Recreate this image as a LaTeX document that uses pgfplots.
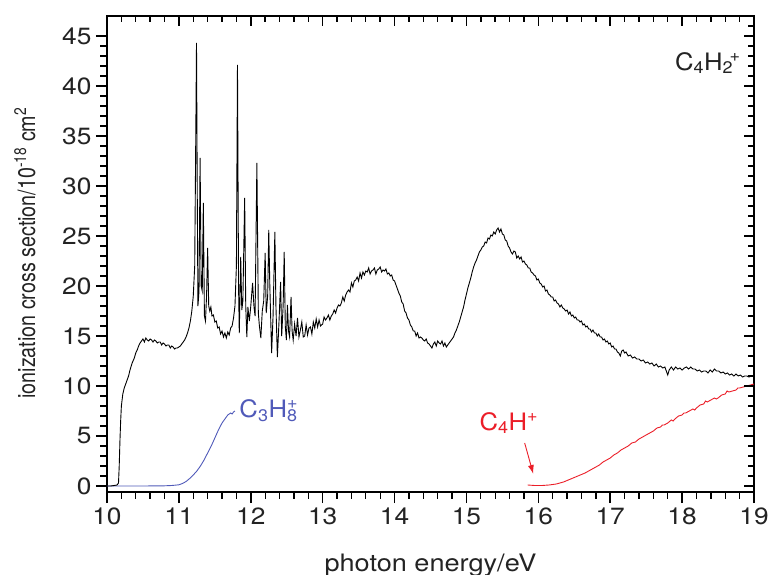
\documentclass[border=0pt]{standalone}
\usepackage{pgfplots}
\pgfplotsset{compat=1.18}
\usepackage{fontspec}
\setmainfont{TeX Gyre Heros}
\newfontfamily\tickfont{TeX Gyre Heros}[FakeStretch=1.12]
\newfontfamily\xlabfont{TeX Gyre Heros}[FakeStretch=1.13]
\newfontfamily\lblfont{TeX Gyre Heros}[FakeStretch=1.07]
\newfontfamily\ylabfont{TeX Gyre Heros}[FakeStretch=0.82]
\usetikzlibrary{arrows.meta}
\definecolor{cblue}{RGB}{80,90,185}
\definecolor{cred}{RGB}{235,30,40}
\definecolor{cdark}{RGB}{35,35,35}

\pgfplotstableread{
x y
10.00 0.0
10.05 0.0
10.10 0.05
10.14 0.1
10.16 0.3
10.17 2.0
10.18 4.5
10.19 6.5
10.20 8.0
10.22 9.2
10.24 9.8
10.26 10.2
10.28 10.6
10.30 11.0
10.32 11.6
10.35 12.3
10.38 12.8
10.40 13.3
10.42 13.6
10.44 14.0
10.46 14.3
10.48 14.5
10.50 14.7
10.52 14.4
10.54 14.8
10.56 14.6
10.58 14.5
10.60 14.7
10.62 14.6
10.64 14.4
10.66 14.6
10.68 14.5
10.70 14.3
10.72 14.4
10.74 14.4
10.76 14.1
10.78 14.3
10.80 14.2
10.82 14.0
10.84 14.1
10.86 14.1
10.88 13.8
10.90 14.0
10.92 13.9
10.94 13.7
10.96 13.8
10.98 13.8
11.00 13.9
11.02 14.0
11.04 14.2
11.06 14.4
11.08 14.6
11.10 14.9
11.12 15.3
11.14 15.8
11.16 16.5
11.18 17.5
11.20 19.0
11.22 22.0
11.235 35.0
11.245 44.3
11.255 30.0
11.265 18.0
11.28 19.5
11.295 32.8
11.31 20.0
11.325 19.5
11.34 28.3
11.355 17.0
11.37 16.5
11.385 19.0
11.40 23.8
11.415 18.0
11.43 17.5
11.445 17.9
11.46 17.0
11.48 17.1
11.50 16.4
11.52 16.5
11.54 15.8
11.56 15.9
11.58 15.2
11.60 15.5
11.62 14.9
11.64 15.3
11.66 14.8
11.68 15.4
11.70 15.1
11.72 15.8
11.74 16.0
11.76 16.8
11.78 18.0
11.80 22.0
11.815 42.1
11.83 20.0
11.84 15.3
11.86 22.9
11.875 17.6
11.89 18.5
11.915 28.8
11.93 18.0
11.945 14.9
11.96 17.9
11.98 16.5
12.00 18.0
12.025 20.3
12.045 17.9
12.06 17.0
12.085 32.3
12.105 17.3
12.12 16.0
12.14 14.8
12.16 17.5
12.18 18.5
12.20 23.3
12.215 17.3
12.235 19.0
12.25 25.6
12.265 20.0
12.29 13.3
12.31 17.0
12.335 25.4
12.35 18.0
12.37 12.9
12.39 16.0
12.415 20.4
12.43 15.0
12.45 18.0
12.465 23.4
12.48 16.0
12.495 14.6
12.51 18.1
12.525 15.5
12.54 14.9
12.56 18.9
12.575 15.5
12.59 14.6
12.61 16.2
12.63 15.0
12.65 16.8
12.67 14.9
12.69 15.6
12.71 16.4
12.73 14.9
12.75 15.0
12.77 16.1
12.79 15.1
12.81 15.8
12.83 15.9
12.85 15.2
12.87 16.4
12.89 15.8
12.91 16.7
12.93 15.9
12.95 16.6
12.97 16.0
13.00 16.2
13.02 16.9
13.04 16.6
13.06 16.8
13.08 17.1
13.10 16.6
13.12 17.0
13.14 17.2
13.16 17.6
13.18 17.3
13.20 17.8
13.22 18.1
13.24 18.0
13.26 18.3
13.28 18.9
13.30 18.5
13.32 19.1
13.34 19.4
13.36 19.6
13.38 19.4
13.40 20.3
13.42 19.9
13.44 20.5
13.46 20.6
13.48 20.9
13.50 20.5
13.52 21.3
13.54 20.8
13.56 21.4
13.58 21.1
13.60 21.5
13.62 21.4
13.64 21.8
13.66 21.2
13.68 21.5
13.70 21.6
13.72 21.8
13.74 21.2
13.76 21.6
13.78 21.7
13.80 21.9
13.82 21.4
13.84 21.6
13.86 21.5
13.88 21.7
13.90 21.2
13.92 21.3
13.94 21.0
13.96 21.1
13.98 20.6
14.00 20.5
14.02 20.1
14.04 19.7
14.06 19.3
14.08 19.0
14.10 18.4
14.12 18.2
14.14 17.5
14.16 17.3
14.18 16.8
14.20 16.6
14.22 16.1
14.24 15.9
14.26 15.5
14.28 15.5
14.30 15.0
14.32 15.3
14.34 14.8
14.36 14.9
14.38 14.8
14.40 14.6
14.42 14.5
14.44 14.7
14.46 14.3
14.48 14.2
14.50 14.0
14.52 13.8
14.54 14.2
14.56 14.4
14.58 14.0
14.60 14.5
14.62 14.3
14.64 14.2
14.66 14.5
14.68 14.0
14.70 14.3
14.72 13.9
14.74 14.1
14.76 14.3
14.78 14.5
14.80 14.7
14.82 14.9
14.84 15.3
14.86 15.6
14.88 16.0
14.90 16.4
14.92 16.9
14.94 17.4
14.96 17.9
14.98 18.6
15.00 19.2
15.02 19.8
15.04 20.3
15.06 20.8
15.08 21.4
15.10 21.9
15.12 22.3
15.14 22.6
15.16 23.0
15.18 23.4
15.20 23.6
15.22 23.9
15.24 24.0
15.26 24.4
15.28 24.3
15.30 24.8
15.32 24.7
15.34 25.1
15.36 25.0
15.38 25.4
15.40 25.2
15.42 25.6
15.44 25.8
15.46 25.4
15.48 25.7
15.50 25.2
15.52 25.1
15.54 24.6
15.56 24.5
15.58 24.0
15.60 23.8
15.62 23.4
15.64 23.2
15.66 23.5
15.68 23.4
15.70 22.8
15.72 23.0
15.74 22.7
15.76 22.9
15.78 22.4
15.80 22.5
15.82 22.2
15.84 22.1
15.86 21.8
15.88 21.8
15.90 21.4
15.92 21.3
15.94 21.1
15.96 21.0
15.98 20.6
16.00 20.7
16.02 20.3
16.04 20.2
16.06 19.9
16.08 20.0
16.10 19.5
16.12 19.6
16.14 19.2
16.16 19.1
16.18 18.9
16.20 18.9
16.22 18.5
16.24 18.6
16.26 18.3
16.28 18.2
16.30 17.9
16.32 18.1
16.34 17.8
16.36 17.7
16.38 17.5
16.40 17.6
16.42 17.2
16.44 17.4
16.46 17.0
16.48 17.1
16.50 16.8
16.52 16.9
16.54 16.6
16.56 16.6
16.58 16.4
16.60 16.5
16.62 16.1
16.64 16.2
16.66 15.9
16.68 16.0
16.70 15.7
16.72 15.7
16.74 15.4
16.76 15.6
16.78 15.3
16.80 15.3
16.82 15.0
16.84 15.2
16.86 14.9
16.88 14.9
16.90 14.6
16.92 14.7
16.94 14.4
16.96 14.5
16.98 14.2
17.00 14.3
17.02 13.9
17.04 14.0
17.06 13.7
17.08 13.7
17.10 13.4
17.12 13.3
17.14 13.0
17.16 13.5
17.18 13.6
17.20 13.3
17.22 13.4
17.25 13.0
17.28 13.1
17.31 12.8
17.34 12.9
17.37 12.7
17.40 12.7
17.43 12.5
17.46 12.6
17.49 12.3
17.52 12.4
17.55 12.2
17.58 12.3
17.61 12.0
17.64 12.2
17.67 11.9
17.70 12.0
17.73 11.8
17.76 11.9
17.78 11.5
17.80 11.1
17.82 11.6
17.85 11.9
17.88 11.6
17.91 11.9
17.94 11.7
17.97 11.8
18.00 11.6
18.03 11.8
18.06 11.9
18.09 11.7
18.12 11.9
18.15 11.7
18.18 11.7
18.21 11.5
18.24 11.6
18.27 11.4
18.30 11.5
18.33 11.5
18.36 11.3
18.39 11.6
18.42 11.4
18.45 11.7
18.48 11.5
18.51 11.5
18.54 11.3
18.57 11.4
18.60 11.2
18.63 11.3
18.66 11.1
18.69 11.2
18.72 11.0
18.75 11.2
18.78 11.0
18.81 11.1
18.84 10.9
18.87 11.0
18.90 11.0
18.93 10.9
18.96 11.0
19.00 11.0
}\tabCfourHtwo

\pgfplotstableread{
x y
10.00 0.0
10.50 0.0
10.80 0.02
10.90 0.05
11.00 0.12
11.05 0.25
11.10 0.45
11.15 0.75
11.20 1.1
11.25 1.5
11.30 2.0
11.35 2.6
11.40 3.3
11.45 4.0
11.50 4.8
11.55 5.6
11.60 6.3
11.63 6.6
11.65 6.8
11.68 7.1
11.70 7.2
11.72 7.3
11.74 7.2
11.76 7.4
11.78 7.5
}\tabCthreeHeight

\pgfplotstableread{
x y
15.85 0.1
15.95 0.05
16.05 0.05
16.15 0.1
16.25 0.2
16.35 0.4
16.45 0.7
16.55 1.0
16.65 1.3
16.70 1.5
16.75 1.7
16.80 1.9
16.85 2.1
16.90 2.4
16.95 2.6
17.00 2.8
17.05 3.1
17.10 3.3
17.15 3.6
17.20 3.8
17.25 4.0
17.30 4.3
17.35 4.4
17.40 4.7
17.45 4.9
17.50 5.1
17.55 5.3
17.575 5.4
17.60 5.5
17.65 5.8
17.70 5.9
17.725 6.1
17.75 6.1
17.80 6.3
17.85 6.6
17.875 6.5
17.90 6.7
17.95 7.0
18.00 7.1
18.025 7.3
18.05 7.3
18.10 7.5
18.15 7.7
18.175 7.6
18.20 7.8
18.25 8.1
18.30 8.2
18.325 8.5
18.35 8.4
18.40 8.6
18.45 8.8
18.475 8.7
18.50 8.8
18.55 9.1
18.60 9.2
18.625 9.5
18.65 9.4
18.70 9.5
18.75 9.6
18.775 9.8
18.80 9.8
18.85 9.9
18.90 10.0
18.95 10.1
19.00 10.2
}\tabCfourH

\begin{document}
\begin{tikzpicture}
\begin{axis}[
  scale only axis, width=647pt, height=476pt,
  xmin=10, xmax=19, ymin=-0.6, ymax=47,
  xtick={10,...,19}, ytick={0,5,...,45},
  minor x tick num=4, minor y tick num=4,
  xtick pos=left, ytick pos=left,
  tick align=outside,
  major tick length=11pt, minor tick length=6.5pt,
  every major tick/.append style={line width=1.5pt, black},
  every minor tick/.append style={line width=1.3pt, black},
  axis line style={line width=1.5pt},
  clip=false,
  /pgf/number format/assume math mode=true,
  ticklabel style={font=\tickfont\fontsize{23.5}{27}\selectfont, text=cdark},
  xticklabel style={yshift=-1pt},
  yticklabel style={xshift=-1pt},
  xlabel={\xlabfont photon energy/eV},
  ylabel={\ylabfont ionization cross section/10\textsuperscript{-18} cm\textsuperscript{2}},
  label style={font=\fontsize{24}{28}\selectfont, text=cdark},
  xlabel style={at={(axis description cs:0.5,-0.166)}, anchor=base},
  ylabel style={at={(axis description cs:-0.111,0.502)}, anchor=base},
]
\coordinate (SW) at (rel axis cs:0,0);
\coordinate (NE) at (rel axis cs:1,1);
\addplot[cblue, line width=0.9pt] table {\tabCthreeHeight};
\addplot[cred, line width=0.9pt] table {\tabCfourH};
\addplot[black, line width=0.9pt] table {\tabCfourHtwo};
% inward ticks on the top and right sides
\pgfplotsinvokeforeach{10.2,10.4,...,18.9}{
  \draw[black, line width=1.4pt] (axis cs:#1,47) -- ++(0pt,-6pt);}
\pgfplotsinvokeforeach{11,12,...,18}{
  \draw[black, line width=1.6pt] (axis cs:#1,47) -- ++(0pt,-10pt);}
\pgfplotsinvokeforeach{1,2,...,46}{
  \draw[black, line width=1.4pt] (axis cs:19,#1) -- ++(-6pt,0pt);}
\pgfplotsinvokeforeach{0,5,...,45}{
  \draw[black, line width=1.6pt] (axis cs:19,#1) -- ++(-10pt,0pt);}
\node[anchor=west, text=cblue, font=\lblfont\fontsize{24}{28}\selectfont, inner sep=0pt] at (axis cs:11.84,7.5) {C\textsubscript{3}H\rlap{\textsuperscript{+}}\textsubscript{8}};
\node[anchor=west, text=cred, font=\lblfont\fontsize{24}{28}\selectfont, inner sep=0pt] at (axis cs:15.18,6.3) {C\textsubscript{4}H\textsuperscript{+}};
\draw[cred, line width=0.9pt, -{Latex[length=9pt,width=6pt]}] (axis cs:15.81,4.3) -- (axis cs:15.93,1.2);
\node[anchor=west, text=cdark, font=\lblfont\fontsize{24}{28}\selectfont, inner sep=0pt] at (axis cs:17.9,42.3) {C\textsubscript{4}H\textsubscript{2}\hspace{-0.15em}\textsuperscript{+}};
\end{axis}
\pgfresetboundingbox
\path ([xshift=-107pt,yshift=-83pt]SW) rectangle ([xshift=19pt,yshift=16pt]NE);
\end{tikzpicture}
\end{document}
